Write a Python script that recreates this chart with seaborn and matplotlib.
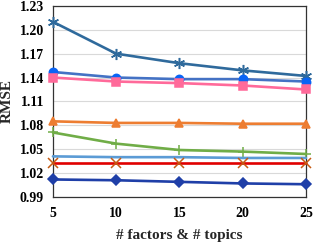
import numpy as np
import pandas as pd
import matplotlib
matplotlib.use("Agg")
import matplotlib.pyplot as plt
import seaborn as sns

# data
k = [5, 10, 15, 20, 25]
star = [1.210, 1.170, 1.158, 1.149, 1.142]
circle = [1.147, 1.140, 1.138, 1.138, 1.135]
square = [1.140, 1.135, 1.133, 1.130, 1.125]
triangle = [1.085, 1.083, 1.083, 1.082, 1.082]
plus = [1.071, 1.057, 1.049, 1.047, 1.044]
plain = [1.041, 1.040, 1.040, 1.039, 1.039]
cross = [1.033, 1.033, 1.033, 1.033, 1.033]
diamond = [1.012, 1.011, 1.009, 1.007, 1.006]

yticks = [0.99, 1.02, 1.05, 1.08, 1.11, 1.14, 1.17, 1.20, 1.23]

sns.set_style("white")
plt.rcParams['font.family'] = ['Liberation Serif', 'DejaVu Serif']

fig = plt.figure(figsize=(3.15, 2.45), dpi=100)
ax = fig.add_axes([0.168, 0.196, 0.803, 0.780])

styles = [
    (star, "#2F6A9C", (6, 2, 0), "#2F6A9C", 8),
    (circle, "#4472C4", "o", "#0A64F5", 6),
    (square, "#FF6A9A", "s", "#FF6A9A", 5.5),
    (triangle, "#ED7D31", "^", "#ED7D31", 6),
    (plus, "#70AD47", "+", "#70AD47", 7),
    (plain, "#5B9BD5", None, None, 0),
    (cross, "#E00000", "x", "#C55A11", 7),
    (diamond, "#1F3FA8", "D", "#1F3FA8", 5),
]
for vals, col, mk, mcol, ms in styles:
    sns.lineplot(x=k, y=vals, ax=ax, color=col, linewidth=1.9,
                 marker=mk, markersize=ms, markerfacecolor=mcol,
                 markeredgecolor=mcol, markeredgewidth=1.1, zorder=3,
                 clip_on=False)

ax.set_xlim(5, 25)
ax.set_ylim(0.99, 1.23)
ax.set_xticks(k)
ax.set_yticks(yticks)
ax.set_yticklabels([f"{v:.2f}" for v in yticks])
ax.yaxis.grid(True, color="#D9D9D9", linewidth=0.8)
for s in ax.spines.values():
    s.set_color("#333333")
    s.set_linewidth(0.9)
ax.tick_params(axis="both", direction="out", length=3.5, width=0.8,
               labelsize=10, colors="black")
ax.tick_params(axis="x", pad=4)
ax.tick_params(axis="y", pad=3)
for lab in ax.get_xticklabels() + ax.get_yticklabels():
    lab.set_fontweight("bold")
ax.set_xlabel("# factors & # topics", fontsize=11, fontweight="bold", labelpad=6)
ax.set_ylabel("RMSE", fontsize=11, fontweight="bold", labelpad=4)

fig.savefig("out.png", dpi=100)
